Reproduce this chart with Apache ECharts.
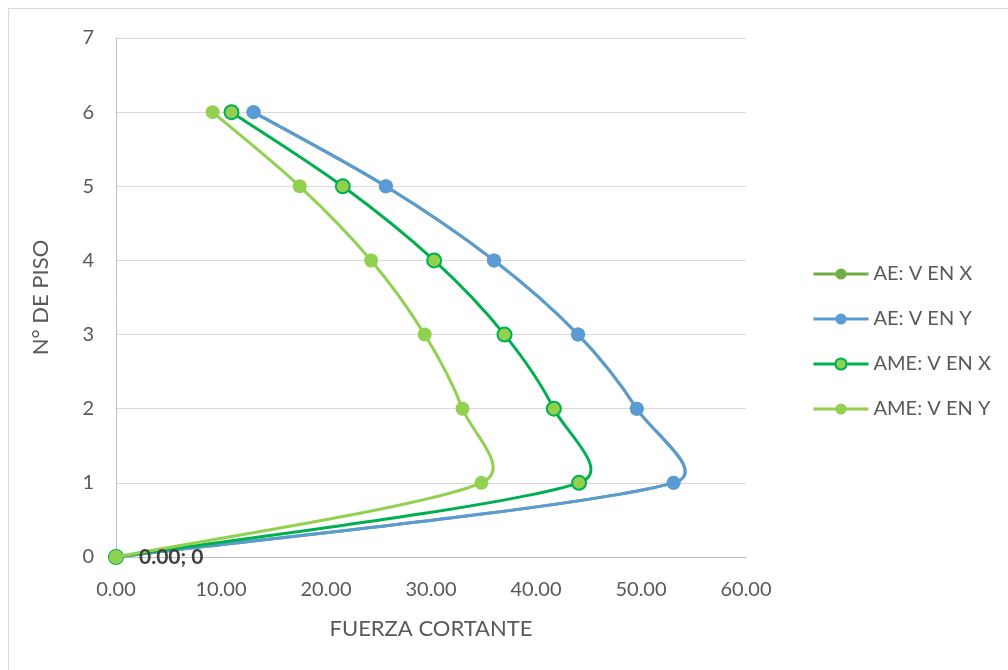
<!DOCTYPE html>
<html>
<head>
<meta charset="utf-8">
<script src="https://cdn.jsdelivr.net/npm/echarts@6/dist/echarts.min.js"></script>
<style>
html,body{margin:0;padding:0;background:#fff;}
#chart{width:1008px;height:670px;}
</style>
</head>
<body>
<div id="chart"></div>
<script>
var floors = [0, 1, 2, 3, 4, 5, 6];
var aeVX   = [0, 53.1, 49.6, 44.0, 36.0, 25.7, 13.1];
var aeVY   = [0, 53.1, 49.6, 44.0, 36.0, 25.7, 13.1];
var ameVX  = [0, 44.1, 41.7, 37.0, 30.3, 21.6, 11.0];
var ameVY  = [0, 34.8, 33.0, 29.4, 24.3, 17.5, 9.2];
var seriesNames = ['AE: V EN X', 'AE: V EN Y', 'AME: V EN X', 'AME: V EN Y'];
var xTicks = [0, 10, 20, 30, 40, 50, 60];
var yTicks = [0, 1, 2, 3, 4, 5, 6, 7];

function pairs(xs) { return xs.map(function (x, i) { return [x, floors[i]]; }); }

var FONT = 'Lato, "Open Sans", sans-serif';
var TEXT = '#595959';
var chart = echarts.init(document.getElementById('chart'), null, {renderer: 'canvas'});

// Excel-like smoothed curve, computed in pixel space from axis coordinates
function smoothPath(pts, t) {
  var n = pts.length;
  function dist(a, b) { var dx = b[0] - a[0], dy = b[1] - a[1]; return Math.sqrt(dx * dx + dy * dy); }
  var tang = [], span = [];
  for (var i = 0; i < n; i++) {
    var a = pts[Math.max(0, i - 1)], b = pts[Math.min(n - 1, i + 1)];
    var l = dist(a, b) || 1;
    tang.push([(b[0] - a[0]) / l, (b[1] - a[1]) / l]);
    span.push(l);
  }
  var d = 'M' + pts[0][0] + ' ' + pts[0][1];
  for (var j = 0; j < n - 1; j++) {
    var p = pts[j], q = pts[j + 1], seg = dist(p, q);
    var L1 = Math.min(seg * t, span[j] / 6);
    var L2 = Math.min(seg * t, span[j + 1] / 6);
    var c1 = [p[0] + tang[j][0] * L1, p[1] + tang[j][1] * L1];
    var c2 = [q[0] - tang[j + 1][0] * L2, q[1] - tang[j + 1][1] * L2];
    d += ' C' + c1[0] + ' ' + c1[1] + ' ' + c2[0] + ' ' + c2[1] + ' ' + q[0] + ' ' + q[1];
  }
  return d;
}

function curve(idx, xs, color) {
  var data = pairs(xs);
  return {
    name: seriesNames[idx] + ' (curva)',
    type: 'custom',
    data: data,
    z: 2 + idx * 2,
    silent: true,
    encode: {x: 0, y: 1},
    renderItem: function (params, api) {
      if (params.dataIndex !== 0) return null;
      var pts = data.map(function (p) { return api.coord(p); });
      return {
        type: 'path',
        shape: {pathData: smoothPath(pts, 0.45)},
        style: {fill: null, stroke: color, lineWidth: 3, lineJoin: 'round', lineCap: 'round'}
      };
    }
  };
}

function markers(idx, xs, fill, border, extra) {
  var s = {
    name: seriesNames[idx],
    type: 'line',
    data: pairs(xs),
    symbol: 'circle',
    symbolSize: 14,
    z: 3 + idx * 2,
    lineStyle: {color: border, width: 3, opacity: 0},
    itemStyle: {color: fill, borderColor: border, borderWidth: fill === border ? 0 : 2},
    emphasis: {disabled: true}
  };
  if (extra) for (var k in extra) s[k] = extra[k];
  return s;
}

var option = {
  animation: false,
  backgroundColor: '#fff',
  graphic: [{
    type: 'rect',
    shape: {x: 8.5, y: 8.5, width: 1010, height: 680},
    style: {fill: 'none', stroke: '#d9d9d9', lineWidth: 1},
    silent: true
  }],
  grid: {left: 116, top: 38, width: 630, height: 519, containLabel: false},
  legend: {
    orient: 'vertical',
    left: 807,
    top: 259,
    itemGap: 25,
    itemWidth: 55,
    itemHeight: 14,
    lineStyle: {opacity: 1, width: 3},
    textStyle: {color: TEXT, fontSize: 20, fontFamily: FONT},
    data: seriesNames
  },
  xAxis: {
    type: 'value',
    min: xTicks[0], max: xTicks[xTicks.length - 1], interval: xTicks[1] - xTicks[0],
    name: 'FUERZA CORTANTE',
    nameLocation: 'middle',
    nameGap: 61,
    nameTextStyle: {color: TEXT, fontSize: 22, fontFamily: FONT},
    axisLine: {show: true, onZero: false, lineStyle: {color: '#bfbfbf', width: 1}},
    axisTick: {show: false},
    splitLine: {show: false},
    axisLabel: {color: TEXT, fontSize: 20, fontFamily: FONT, margin: 23,
      formatter: function (v) { return v.toFixed(2); }}
  },
  yAxis: {
    type: 'value',
    min: yTicks[0], max: yTicks[yTicks.length - 1], interval: yTicks[1] - yTicks[0],
    name: 'N° DE PISO',
    nameLocation: 'middle',
    nameGap: 64,
    nameRotate: 90,
    nameTextStyle: {color: TEXT, fontSize: 22, fontFamily: FONT},
    axisLine: {show: true, lineStyle: {color: '#bfbfbf', width: 1}},
    axisTick: {show: false},
    splitLine: {show: true, lineStyle: {color: '#d9d9d9', width: 1}},
    axisLabel: {color: TEXT, fontSize: 20, fontFamily: FONT, margin: 22}
  },
  series: [
    curve(0, aeVX, '#70AD47'),
    markers(0, aeVX, '#70AD47', '#70AD47'),
    curve(1, aeVY, '#5B9BD5'),
    markers(1, aeVY, '#5B9BD5', '#5B9BD5'),
    curve(2, ameVX, '#00B050'),
    markers(2, ameVX, '#92D050', '#00B050'),
    curve(3, ameVY, '#92D050'),
    markers(3, ameVY, '#92D050', '#92D050', {
      label: {
        show: true,
        position: 'right',
        distance: 16,
        color: '#404040',
        fontSize: 21,
        fontWeight: 'bold',
        fontFamily: FONT,
        formatter: function (p) {
          return p.dataIndex === 0 ? p.value[0].toFixed(2) + '; ' + p.value[1] : '';
        }
      }
    })
  ]
};
chart.setOption(option);
</script>
</body>
</html>
